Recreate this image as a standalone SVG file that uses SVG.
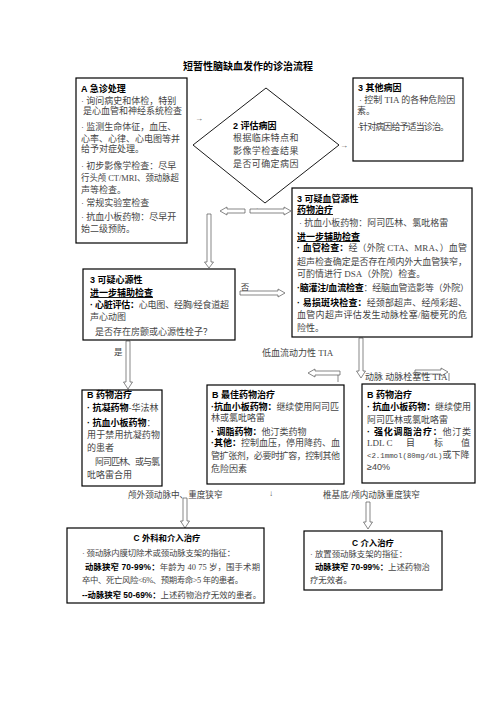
<svg xmlns="http://www.w3.org/2000/svg" width="496" height="702" viewBox="0 0 496 702">
<style>
text{font-family:"Liberation Serif","Noto Sans CJK SC",serif;font-size:9px;fill:#444}
.b{font-family:"Liberation Sans","Noto Sans CJK SC",sans-serif;font-weight:bold;fill:#000}
.u{text-decoration:underline}
.s{font-size:8.4px}
.box{fill:#fff;stroke:#000;stroke-width:1.2}
.arr{fill:#fff;stroke:#555;stroke-width:0.7}
.mk{font-size:8px;fill:#555}
</style>
<rect width="496" height="702" fill="#fff"/>
<text class="b" x="248" y="70" text-anchor="middle" style="font-size:10px">短暂性脑缺血发作的诊治流程</text>

<g id="connectors">
<text class="mk" x="195" y="121">→</text>
<text class="mk" x="340" y="148">→</text>
<polygon class="arr" points="245,209 227,209 227,207 220,211 227,215 227,213 245,213"/>
<text class="mk" x="255" y="213">↓</text>
<polygon class="arr" points="250,209 284,209 284,207 291,211 284,215 284,213 250,213"/>
<polygon class="arr" points="207,214 211,214 211,262 213.5,262 209,268 204.5,262 207,262"/>
<polygon class="arr" points="240,291 278,291 278,289 285,293 278,297 278,295 240,295"/>
<polygon class="arr" points="126,341 130,341 130,382 132.5,382 128,389 123.5,382 126,382"/>
<polygon class="arr" points="359,338 363,338 363,371 365.5,371 361,378 356.5,371 359,371"/>
<polygon class="arr" points="340,371 315,371 315,369 308,373 315,377 315,375 340,375"/>
<line x1="338" y1="375" x2="338" y2="382" stroke="#555" stroke-width="0.7"/>
<polygon class="arr" points="415,370 441,370 441,368 448,372 441,376 441,374 415,374"/>
<line x1="449" y1="373" x2="449" y2="381" stroke="#555" stroke-width="0.7"/>
<polygon class="arr" points="183,498 187,498 187,521 189.5,521 185,528 180.5,521 183,521"/>
<polygon class="arr" points="366,502 370,502 370,522 372.5,522 368,529 363.5,522 366,522"/>
<text x="245" y="290" text-anchor="middle" style="font-size:8.5px">否</text>
<text x="114" y="355" style="font-size:8.5px">是</text>
<text x="262" y="356">低血流动力性 TIA</text>
<text x="365" y="380">动脉 动脉栓塞性 TIA</text>
<text x="128" y="498" style="font-size:8.6px">颅外颈动脉中、重度狭窄</text>
<text class="mk" x="269" y="496">↓</text>
<text x="323" y="498" style="font-size:8.6px">椎基底/颅内动脉重度狭窄</text>
</g>

<g id="nodeA">
<rect class="box" x="76" y="78" width="111" height="165"/>
<text class="b" x="81" y="92">A 急诊处理</text>
<text x="81" y="104">· 询问病史和体检，特别</text>
<text x="83" y="114">是心血管和神经系统检查</text>
<text x="81" y="130">· 监测生命体征，血压、</text>
<text x="81" y="142">心率、心律、心电图等并</text>
<text x="81" y="152">给予对症处理。</text>
<text x="81" y="169">· 初步影像学检查：尽早</text>
<text x="81" y="181" textLength="98" lengthAdjust="spacingAndGlyphs">行头颅 CT/MRI、颈动脉超</text>
<text x="81" y="193">声等检查。</text>
<text x="81" y="206">· 常规实验室检查</text>
<text x="81" y="220">· 抗血小板药物：尽早开</text>
<text x="81" y="232">始二级预防。</text>
</g>

<g id="node2">
<polygon points="266,88 339,145 265,203 193,145" fill="#fff" stroke="#000" stroke-width="0.9"/>
<text class="b" x="233" y="129">2 评估病因</text>
<text x="233" y="141" style="letter-spacing:0.4px">根据临床特点和</text>
<text x="233" y="154" style="letter-spacing:0.4px">影像学检查结果</text>
<text x="233" y="167" style="letter-spacing:0.4px">是否可确定病因</text>
</g>

<g id="node3other">
<rect class="box" x="353" y="78" width="110" height="83"/>
<text class="b" x="358" y="91">3 其他病因</text>
<text x="359" y="103">· 控制 TIA 的各种危险因</text>
<text x="357" y="114">素。</text>
<text x="357" y="130" textLength="92">·针对病因给予适当诊治。</text>
</g>

<g id="node3vascular">
<rect class="box" x="292" y="188" width="180" height="149"/>
<text class="b" x="297" y="202">3 可疑血管源性</text>
<text class="b u" x="297" y="213">药物治疗</text>
<text x="299" y="226">· 抗血小板药物：阿司匹林、氯吡格雷</text>
<text class="b u" x="297" y="240">进一步辅助检查</text>
<text x="297" y="251" textLength="170"><tspan class="b">· 血管检查：</tspan>经（外院 CTA、MRA、）血管</text>
<text x="297" y="265" textLength="170">超声检查确定是否存在颅内外大血管狭窄，</text>
<text x="297" y="277">可酌情进行 DSA（外院）检查。</text>
<text x="297" y="291" textLength="172"><tspan class="b">·脑灌注/血流检查</tspan>：经脑血管造影等（外院）</text>
<text x="297" y="306" textLength="170"><tspan class="b">· 易损斑块检查：</tspan>经颈部超声、经颅彩超、</text>
<text x="297" y="318" textLength="170">血管内超声评估发生动脉栓塞/脑梗死的危</text>
<text x="297" y="331">险性。</text>
</g>

<g id="node3cardiac">
<rect class="box" x="83" y="269" width="152" height="71"/>
<text class="b" x="90" y="283">3 可疑心源性</text>
<text class="b u" x="90" y="296">进一步辅助检查</text>
<text x="90" y="308" textLength="139"><tspan class="b">· 心脏评估：</tspan>心电图、经胸/经食道超</text>
<text x="90" y="320">声心动图</text>
<text x="95" y="335">是否存在房颤或心源性栓子？</text>
</g>

<g id="nodeB1">
<rect class="box" x="82" y="390" width="80" height="96"/>
<text class="b" x="87" y="398">B 药物治疗</text>
<text x="87" y="411"><tspan class="b">· 抗凝药物</tspan>-华法林</text>
<text x="87" y="426"><tspan class="b">· 抗血小板药物</tspan>：</text>
<text x="87" y="438" textLength="73">用于禁用抗凝药物</text>
<text x="87" y="451">的患者</text>
<text x="95" y="465" textLength="65">阿司匹林、或与氯</text>
<text x="87" y="478">吡咯雷合用</text>
</g>

<g id="nodeB2">
<rect class="box" x="207" y="385" width="137" height="99"/>
<text class="b" x="212" y="398">B 最佳药物治疗</text>
<text x="211" y="410" textLength="128"><tspan class="b">·抗血小板药物：</tspan>继续使用阿司匹</text>
<text x="211" y="421">林或氯吡咯雷</text>
<text x="211" y="435"><tspan class="b">· 调脂药物：</tspan>他汀类药物</text>
<text x="211" y="446" textLength="129"><tspan class="b">·其他：</tspan>控制血压，停用降药、血</text>
<text x="211" y="459" textLength="129">管扩张剂，必要时扩容，控制其他</text>
<text x="211" y="472">危险因素</text>
</g>

<g id="nodeB3">
<rect class="box" x="362" y="384" width="113" height="99"/>
<text class="b" x="367" y="398">B 药物治疗</text>
<text x="367" y="410" textLength="104"><tspan class="b">· 抗血小板药物：</tspan>继续使用</text>
<text x="367" y="423">阿司匹林或氯吡咯雷</text>
<text x="367" y="435" textLength="104"><tspan class="b">· 强化调脂治疗：</tspan>他汀类</text>
<text x="367" y="446">LDL C</text>
<text x="406" y="446">目</text>
<text x="434" y="446">标</text>
<text x="461" y="446">值</text>
<text x="367" y="458"><tspan style="font-family:'Liberation Mono','Noto Sans CJK SC',monospace;font-size:7.4px">&lt;2.1mmol(80mg/dL)</tspan>或下降</text>
<text x="367" y="470" style="font-family:'Liberation Sans',sans-serif">≥40%</text>
</g>

<g id="nodeC1">
<rect class="box" x="67" y="528" width="197" height="75"/>
<text class="b s" x="167" y="541" text-anchor="middle">C 外科和介入治疗</text>
<text class="s" x="82" y="556" textLength="153">· 颈动脉内膜切除术或颈动脉支架的指征：</text>
<text class="s" x="85" y="570" textLength="175"><tspan class="b">动脉狭窄 70-99%：</tspan>年龄为 40 75 岁，围手术期</text>
<text class="s" x="82" y="583" textLength="161">卒中、死亡风险&lt;6%、预期寿命&gt;5 年的患者。</text>
<text class="s" x="82" y="598" textLength="179"><tspan class="b">--动脉狭窄 50-69%：</tspan>上述药物治疗无效的患者。</text>
</g>

<g id="nodeC2">
<rect class="box" x="304" y="531" width="138" height="59"/>
<text class="b s" x="373" y="546" text-anchor="middle">C 介入治疗</text>
<text class="s" x="310" y="557">· 放置颈动脉支架的指征：</text>
<text class="s" x="315" y="570"><tspan class="b">动脉狭窄 70-99%：</tspan>上述药物治</text>
<text class="s" x="310" y="583">疗无效者。</text>
</g>
</svg>
